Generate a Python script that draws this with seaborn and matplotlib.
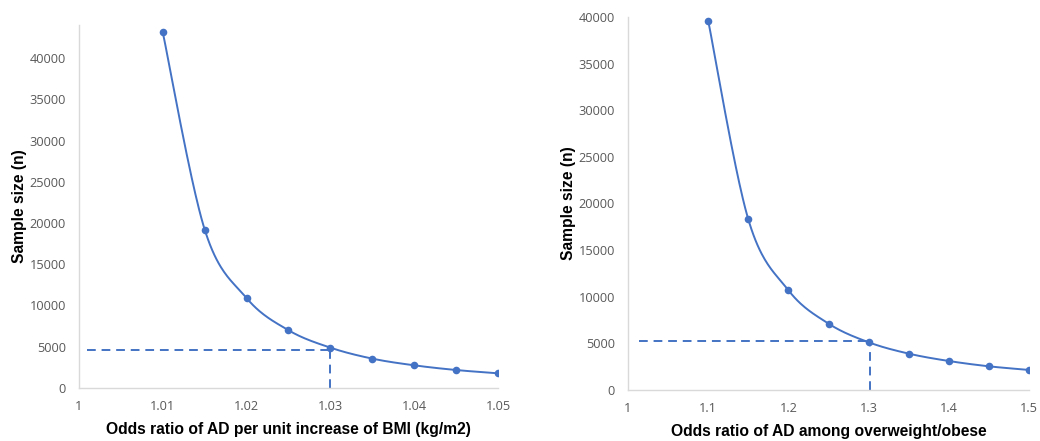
import numpy as np
import pandas as pd
import matplotlib
matplotlib.use("Agg")
import matplotlib.pyplot as plt
import seaborn as sns

# ---- data ----
bmi_or = [1.01, 1.015, 1.02, 1.025, 1.03, 1.035, 1.04, 1.045, 1.05]
bmi_n = [43100, 19200, 10900, 7000, 4890, 3560, 2750, 2180, 1780]
bmi_ref_x = [1.001, 1.03]
bmi_ref_y = 4630

ow_or = [1.1, 1.15, 1.2, 1.25, 1.3, 1.35, 1.4, 1.45, 1.5]
ow_n = [39600, 18300, 10700, 7120, 5120, 3900, 3110, 2540, 2150]
ow_ref_x = [1.014, 1.302]
ow_ref_y = 5260

bmi_xticks = [1, 1.01, 1.02, 1.03, 1.04, 1.05]
bmi_xlabels = ["1", "1.01", "1.02", "1.03", "1.04", "1.05"]
ow_xticks = [1, 1.1, 1.2, 1.3, 1.4, 1.5]
ow_xlabels = ["1", "1.1", "1.2", "1.3", "1.4", "1.5"]
yticks = [0, 5000, 10000, 15000, 20000, 25000, 30000, 35000, 40000]

BLUE = "#4472C4"
GRID = "#D9D9D9"
TICK = "#595959"

sns.set_theme(style="white")
plt.rcParams["font.family"] = ["Liberation Sans", "DejaVu Sans"]


def smooth(x, y, n=40):
    """Excel-style smoothed line (Catmull-Rom / Bezier) through the points."""
    x = np.asarray(x, float)
    y = np.asarray(y, float)
    P = np.column_stack([x, y])
    Pe = np.vstack([P[0], P, P[-1]])
    out = []
    t = np.linspace(0, 1, n)[:, None]
    for i in range(1, len(Pe) - 2):
        p0, p1, p2, p3 = Pe[i - 1], Pe[i], Pe[i + 1], Pe[i + 2]
        c1 = p1 + (p2 - p0) / 6.0
        c2 = p2 - (p3 - p1) / 6.0
        seg = ((1 - t) ** 3) * p1 + 3 * ((1 - t) ** 2) * t * c1 + 3 * (1 - t) * t ** 2 * c2 + t ** 3 * p2
        out.append(seg if i == 1 else seg[1:])
    s = np.vstack(out)
    return pd.DataFrame({"x": s[:, 0], "y": s[:, 1]})


fig = plt.figure(figsize=(10.4, 4.41), dpi=100)
W, H = 1040, 441
ax1 = fig.add_axes([79 / W, 1 - 388 / H, (498 - 79) / W, (388 - 25) / H])
ax2 = fig.add_axes([628 / W, 1 - 390 / H, (1029 - 628) / W, (390 - 17) / H])


def draw(ax, xs, ys, refx, refy, xticks, xlabels, xlim, ylim, xlabel):
    sm = smooth(xs, ys)
    sns.lineplot(data=sm, x="x", y="y", ax=ax, color=BLUE, linewidth=1.4, sort=False, estimator=None)
    sns.scatterplot(x=xs, y=ys, ax=ax, color=BLUE, s=30, edgecolor=BLUE, linewidth=0, zorder=5)
    ax.plot(refx, [refy, refy], color=BLUE, linewidth=1.4, dashes=(4.5, 3))
    ax.plot([refx[1], refx[1]], [0, refy], color=BLUE, linewidth=1.4, dashes=(4.5, 3))
    ax.set_xlim(*xlim)
    ax.set_ylim(*ylim)
    ax.set_xticks(xticks)
    ax.set_xticklabels(xlabels)
    ax.set_yticks(yticks)
    ax.set_yticklabels([str(v) for v in yticks])
    ax.tick_params(axis="both", length=0, labelsize=9.2, colors=TICK)
    ax.tick_params(axis="x", pad=9)
    ax.tick_params(axis="y", pad=9.5)
    for lab in ax.get_xticklabels() + ax.get_yticklabels():
        lab.set_fontfamily(["Open Sans", "DejaVu Sans"])
    for side in ["top", "right"]:
        ax.spines[side].set_visible(False)
    for side in ["left", "bottom"]:
        ax.spines[side].set_color(GRID)
        ax.spines[side].set_linewidth(1.0)
    ax.set_xlabel(xlabel, fontsize=11.25, fontweight="bold", color="black", labelpad=6)
    ax.set_ylabel("Sample size (n)", fontsize=11.25, fontweight="bold", color="black", labelpad=2)
    ax.set_facecolor("white")


draw(ax1, bmi_or, bmi_n, bmi_ref_x, bmi_ref_y, bmi_xticks, bmi_xlabels,
     (1, 1.05), (0, 44000), "Odds ratio of AD per unit increase of BMI (kg/m2)")
draw(ax2, ow_or, ow_n, ow_ref_x, ow_ref_y, ow_xticks, ow_xlabels,
     (1, 1.5), (0, 40000), "Odds ratio of AD among overweight/obese")

fig.savefig("out.png", dpi=100, facecolor="white")
